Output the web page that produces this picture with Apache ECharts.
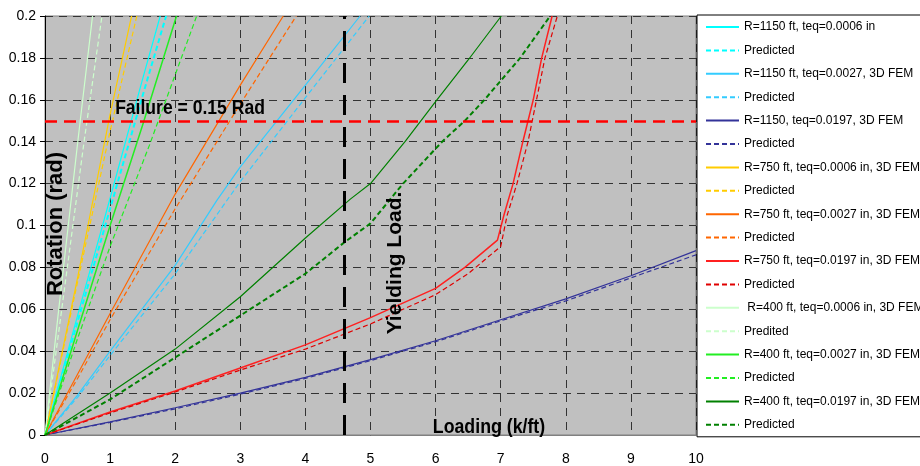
<!DOCTYPE html>
<html>
<head>
<meta charset="utf-8">
<style>
html, body { margin: 0; padding: 0; background: #fff; }
#chartElem { width: 920px; height: 466px; }
</style>
</head>
<body>
<div id="chartElem"></div>

<script src="https://cdn.jsdelivr.net/npm/echarts@6.0.0/dist/echarts.min.js"></script>

<script>

// axis ticks
let xTicks = [0, 1, 2, 3, 4, 5, 6, 7, 8, 9, 10];
let yTicks = [0, 0.02, 0.04, 0.06, 0.08, 0.1, 0.12, 0.14, 0.16, 0.18, 0.2];

let failureRotation = 0.15;
let yieldingLoad = 4.6;

// legend labels, same order as the series below
let seriesNames = [
	"R=1150 ft, teq=0.0006 in", "Predicted",
	"R=1150 ft, teq=0.0027, 3D FEM", "Predicted",
	"R=1150, teq=0.0197, 3D FEM", "Predicted",
	"R=750 ft, teq=0.0006 in, 3D FEM", "Predicted",
	"R=750 ft, teq=0.0027 in, 3D FEM", "Predicted",
	"R=750 ft, teq=0.0197 in, 3D FEM", "Predicted",
	" R=400 ft, teq=0.0006 in, 3D FEM", "Predited",
	"R=400 ft, teq=0.0027 in, 3D FEM", "Predicted",
	"R=400 ft, teq=0.0197 in, 3D FEM", "Predicted"
];

// [loading k/ft, rotation rad]
let r1150t0006 = [[0, 0], [0.5, 0.057], [1, 0.113], [1.5, 0.17], [1.77, 0.2]];
let r1150t0006Pred = [[0, 0], [0.5, 0.054], [1, 0.108], [1.5, 0.162], [1.86, 0.2]];
let r1150t0027 = [[0, 0], [0.5, 0.019], [1, 0.04], [2, 0.081], [2.64, 0.112], [3, 0.128], [4, 0.167], [4.84, 0.2]];
let r1150t0027Pred = [[0, 0], [0.5, 0.018], [1, 0.038], [2, 0.077], [3, 0.121], [4, 0.161], [4.98, 0.2]];
let r1150t0197 = [[0, 0], [1, 0.0063], [2, 0.013], [3, 0.02], [4, 0.0275], [5, 0.036], [6, 0.045], [7, 0.055], [8, 0.065], [9, 0.076], [10, 0.088]];
let r1150t0197Pred = [[0, 0], [1, 0.006], [2, 0.0125], [3, 0.0195], [4, 0.027], [5, 0.0355], [6, 0.0445], [7, 0.0545], [8, 0.064], [9, 0.075], [10, 0.086]];
let r750t0006 = [[0, 0], [0.5, 0.075], [1, 0.153], [1.33, 0.2]];
let r750t0006Pred = [[0, 0], [0.5, 0.073], [1, 0.145], [1.41, 0.2]];
let r750t0027 = [[0, 0], [0.5, 0.029], [1, 0.058], [2, 0.115], [3, 0.167], [3.66, 0.2]];
let r750t0027Pred = [[0, 0], [0.5, 0.027], [1, 0.055], [2, 0.108], [3, 0.158], [3.86, 0.2]];
let r750t0197 = [[0, 0], [1, 0.011], [2, 0.021], [3, 0.032], [4, 0.043], [5, 0.056], [6, 0.07], [6.45, 0.08], [6.95, 0.093], [7.05, 0.105], [7.19, 0.12], [7.34, 0.14], [7.5, 0.16], [7.63, 0.18], [7.79, 0.2]];
let r750t0197Pred = [[0, 0], [1, 0.0105], [2, 0.0205], [3, 0.031], [4, 0.041], [5, 0.053], [6, 0.067], [6.5, 0.077], [7, 0.09], [7.1, 0.105], [7.25, 0.12], [7.42, 0.14], [7.55, 0.16], [7.68, 0.18], [7.87, 0.2]];
let r400t0006 = [[0, 0], [0.2, 0.057], [0.5, 0.139], [0.73, 0.2]];
let r400t0006Pred = [[0, 0], [0.3, 0.07], [0.6, 0.14], [0.875, 0.2]];
let r400t0027 = [[0, 0], [0.5, 0.05], [1, 0.1], [1.5, 0.148], [2.02, 0.2]];
let r400t0027Pred = [[0, 0], [0.5, 0.046], [1, 0.09], [1.6, 0.138], [2.33, 0.2]];
let r400t0197 = [[0, 0], [1, 0.02], [2, 0.041], [3, 0.066], [4, 0.094], [4.69, 0.1126], [5, 0.12], [5.53, 0.14], [6.02, 0.16], [6.5, 0.179], [7.01, 0.2]];
let r400t0197Pred = [[0, 0], [1, 0.017], [2, 0.037], [3, 0.057], [4, 0.077], [4.6, 0.092], [5, 0.101], [5.5, 0.12], [6.1, 0.14], [6.45, 0.15], [6.75, 0.16], [7.3, 0.18], [7.76, 0.2]];

let seriesData = [
	r1150t0006, r1150t0006Pred, r1150t0027, r1150t0027Pred, r1150t0197, r1150t0197Pred,
	r750t0006, r750t0006Pred, r750t0027, r750t0027Pred, r750t0197, r750t0197Pred,
	r400t0006, r400t0006Pred, r400t0027, r400t0027Pred, r400t0197, r400t0197Pred
];

let lineStyles = [
	{color: "#00ffff", width: 1.2, type: "solid"},
	{color: "#00ffff", width: 2, type: [5, 3]},
	{color: "#33ccff", width: 1.2, type: "solid"},
	{color: "#33ccff", width: 1.2, type: [5, 3]},
	{color: "#333399", width: 1.2, type: "solid"},
	{color: "#333399", width: 1.2, type: [5, 3]},
	{color: "#ffcc00", width: 1.2, type: "solid"},
	{color: "#ffcc00", width: 1.2, type: [5, 3]},
	{color: "#ff6600", width: 1.2, type: "solid"},
	{color: "#ff6600", width: 1.2, type: [5, 3]},
	{color: "#ff2020", width: 1.5, type: "solid"},
	{color: "#e00000", width: 1.2, type: [5, 3]},
	{color: "#ccffcc", width: 1.2, type: "solid"},
	{color: "#ccffcc", width: 1.2, type: [5, 3]},
	{color: "#22ee22", width: 1.5, type: "solid"},
	{color: "#22ee22", width: 1.2, type: [5, 3]},
	{color: "#008000", width: 1.2, type: "solid"},
	{color: "#008000", width: 2, type: [5, 3]}
];


let chart = echarts.init(document.getElementById("chartElem"), null, {renderer: "canvas"});

chart.setOption(buildOption());


function buildOption() {
	// series names must be unique for the legend, so tag them and strip the tag when drawn
	let series = seriesData.map((data, i) => ({
		name: seriesNames[i] + "#" + i,
		type: "line",
		data: data,
		symbol: "none",
		showSymbol: false,
		lineStyle: lineStyles[i],
		itemStyle: {color: lineStyles[i].color},
		emphasis: {disabled: true},
		animation: false,
		z: 3
	}));
	
	series.push({
		name: "guides",
		type: "line",
		data: [],
		animation: false,
		z: 4,
		markLine: {
			silent: true,
			symbol: "none",
			label: {show: false},
			animation: false,
			data: [
				[
					{coord: [0, failureRotation], lineStyle: {color: "#ff0000", width: 2.5, type: [12, 7]}},
					{coord: [10, failureRotation]}
				],
				[
					{coord: [yieldingLoad, 0], lineStyle: {color: "#000", width: 3, type: [20, 12]}},
					{coord: [yieldingLoad, 0.2]}
				]
			]
		}
	});
	
	let font = "Liberation Sans, Arial, sans-serif";
	
	return {
		animation: false,
		backgroundColor: "#fff",
		grid: {
			left: 45,
			top: 16,
			right: 224,
			bottom: 29,
			show: true,
			backgroundColor: "#c0c0c0",
			borderColor: "#808080",
			borderWidth: 1
		},
		legend: {
			orient: "vertical",
			left: 697,
			top: 15,
			padding: [6, 8, 6, 8],
			itemWidth: 33,
			itemHeight: 12,
			itemGap: 11.4,
			backgroundColor: "#fff",
			borderColor: "#000",
			borderWidth: 1,
			selectedMode: false,
			itemStyle: {opacity: 0},
			data: series.slice(0, seriesData.length).map(s => s.name),
			formatter: name => name.split("#")[0],
			textStyle: {fontFamily: font, fontSize: 12, color: "#000", lineHeight: 12}
		},
		xAxis: {
			type: "value",
			min: xTicks[0],
			max: xTicks[xTicks.length - 1],
			interval: 1,
			axisLine: {show: true, onZero: false, lineStyle: {color: "#808080", width: 1}},
			axisTick: {show: false},
			axisLabel: {margin: 17, color: "#000", fontFamily: font, fontSize: 14},
			splitLine: {show: true, lineStyle: {color: "#333", width: 1, type: [8, 6]}}
		},
		yAxis: {
			type: "value",
			min: yTicks[0],
			max: yTicks[yTicks.length - 1],
			interval: 0.02,
			axisLine: {show: true, lineStyle: {color: "#000", width: 1}},
			axisTick: {show: true, inside: false, length: 5, lineStyle: {color: "#000"}},
			axisLabel: {margin: 9, color: "#000", fontFamily: font, fontSize: 14},
			splitLine: {show: true, lineStyle: {color: "#333", width: 1, type: [8, 6]}}
		},
		graphic: [
			{
				type: "text", x: 190, y: 109, scaleX: 0.9, z: 10,
				style: {text: "Failure = 0.15 Rad", font: "bold 19.5px " + font, fill: "#000", align: "center", verticalAlign: "middle"}
			},
			{
				type: "text", x: 56, y: 224, rotation: Math.PI / 2, z: 10,
				style: {text: "Rotation (rad)", font: "bold 22px " + font, fill: "#000", align: "center", verticalAlign: "middle"}
			},
			{
				type: "text", x: 395, y: 263, rotation: Math.PI / 2, z: 10,
				style: {text: "Yielding Load.", font: "bold 21px " + font, fill: "#000", align: "center", verticalAlign: "middle"}
			},
			{
				type: "text", x: 489, y: 427, scaleX: 0.845, z: 10,
				style: {text: "Loading (k/ft)", font: "bold 21px " + font, fill: "#000", align: "center", verticalAlign: "middle"}
			}
		],
		series: series
	};
}

</script>
</body>
</html>
